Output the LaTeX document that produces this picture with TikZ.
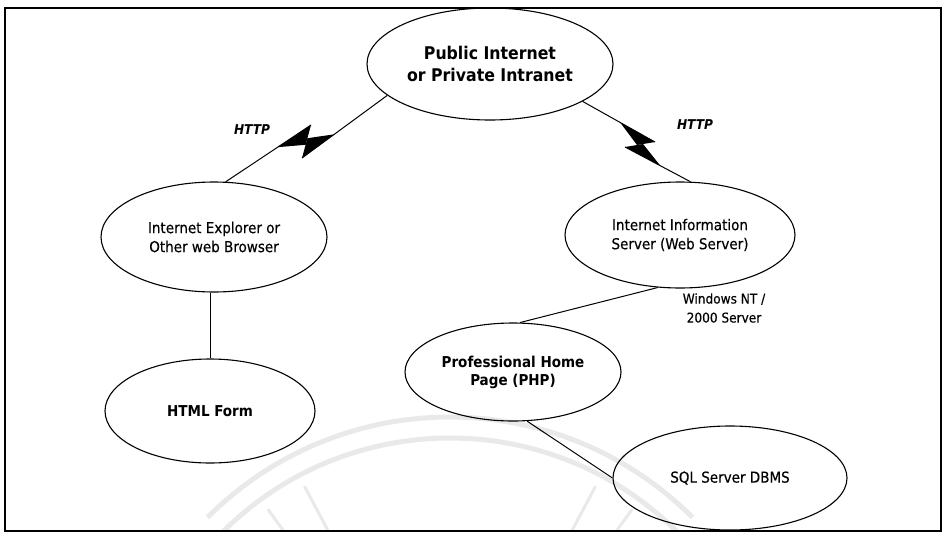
\documentclass[tikz,border=0pt]{standalone}
\usepackage{fontspec}
\setmainfont{DejaVu Sans Condensed}
\newfontfamily\regfont{DejaVu Sans Condensed}[FakeBold=0.35]
\usetikzlibrary{shapes.geometric,calc}
\begin{document}
\begin{tikzpicture}[x=1pt,y=-1pt,
  ell/.style={ellipse,draw,line width=1.1pt,inner sep=0pt,align=center},
  reg/.style={font=\regfont\fontsize{15}{19}\selectfont},
  bld/.style={font=\bfseries\fontsize{15}{18}\selectfont},
  link/.style={line width=1pt},
  wm/.style={gray!17,line width=5pt},
  wmray/.style={gray!17,line width=3pt},
  lbl/.style={font=\bfseries\itshape\fontsize{13.5}{16}\selectfont}]
\useasboundingbox (0,0) rectangle (943,533);
% faint watermark
\begin{scope}
\clip (5,8) rectangle (941,531);
\foreach \r in {322,343} {
  \draw[wm] (450,760) ++(225:\r) arc[start angle=225,end angle=315,radius=\r];
}
\foreach \a in {226,234,242,298,306,314} {
  \draw[wmray] (450,760) ++(\a:225) -- ++(\a:85);
}
\end{scope}
% frame
\draw[line width=1.8pt] (5,8) rectangle (941,531);
% nodes
\node[ell,minimum width=246pt,minimum height=112pt,font=\bfseries\fontsize{17.5}{22}\selectfont] (pub) at (490,64) {Public Internet\\or Private Intranet};
\node[ell,reg,minimum width=226pt,minimum height=110pt] (ie) at (214,237) {Internet Explorer or\\Other web Browser};
\node[ell,reg,minimum width=230pt,minimum height=106pt] (iis) at (680,235) {Internet Information\\Server (Web Server)};
\node[ell,bld,minimum width=216pt,minimum height=98pt] (php) at (513,372) {Professional Home\\Page (PHP)};
\node[ell,bld,minimum width=210pt,minimum height=104pt] (hf) at (210,411) {HTML Form};
\node[ell,reg,minimum width=234pt,minimum height=104pt] (sql) at (730,478) {SQL Server DBMS};
% labels
\node[lbl] (h1) at (252,130) {HTTP};
\node[lbl] (h2) at (695,125) {HTTP};
\node[font=\regfont\fontsize{13.5}{19}\selectfont,align=center] (win) at (724,308) {Windows NT /\\2000 Server};
% lightning bolt left
\coordinate (b1) at (311,125);
\coordinate (c1) at (302,158);
\draw[link] (ie.78) -- (b1);
\draw[link] (c1) -- (pub.197);
\fill ($(b1)!40pt!(ie.78)$) -- (b1) -- ($(b1)!0.6!(c1)$) -- cycle;
\fill ($(c1)!40pt!(pub.197)$) -- (c1) -- ($(c1)!0.6!(b1)$) -- cycle;
% lightning bolt right
\coordinate (b2) at (655,142);
\coordinate (c2) at (625,147);
\draw[link] (pub.-22) -- (b2);
\draw[link] (c2) -- (iis.79);
\fill ($(b2)!40pt!(pub.-22)$) -- (b2) -- ($(b2)!0.6!(c2)$) -- cycle;
\fill ($(c2)!40pt!(iis.79)$) -- (c2) -- ($(c2)!0.6!(b2)$) -- cycle;
% plain connectors
\draw[line width=0.6pt] (ie.south -| hf.north) -- (hf.north);
\draw[link] (iis.247) -- (php.82);
\draw[link] (php.286) -- (sql.west);
\end{tikzpicture}
\end{document}
